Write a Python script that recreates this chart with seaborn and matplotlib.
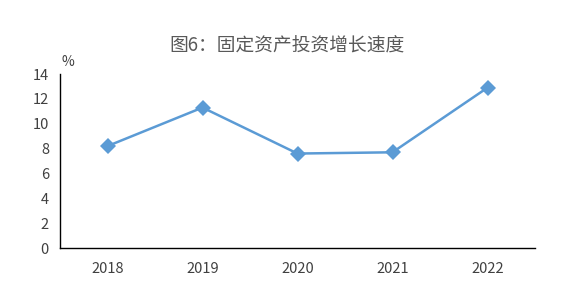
import matplotlib
matplotlib.use("Agg")
import matplotlib.pyplot as plt
import seaborn as sns
import pandas as pd

years = ["2018", "2019", "2020", "2021", "2022"]
growth = [8.2, 11.3, 7.6, 7.7, 12.9]
title = "图6：固定资产投资增长速度"

sns.set_theme(style="white")
plt.rcParams['font.family'] = ['Noto Sans CJK SC', 'DejaVu Sans']

df = pd.DataFrame({"year": years, "growth": growth})

fig = plt.figure(figsize=(5.73, 2.83), dpi=100)
ax = fig.add_axes([60/573, 35/283, 475/573, 174/283])
sns.lineplot(data=df, x="year", y="growth", ax=ax, color="#5B9BD5", linewidth=1.8,
             marker="D", markersize=8, markeredgewidth=0, sort=False)
ax.set_xlim(-0.5, 4.5)
ax.set_ylim(0, 14)
ax.set_yticks(range(0, 15, 2))
ax.set_xlabel("")
ax.set_ylabel("")
for s in ["top", "right"]:
    ax.spines[s].set_visible(False)
for s in ["left", "bottom"]:
    ax.spines[s].set_color("#000000")
    ax.spines[s].set_linewidth(1.0)
ax.tick_params(axis="both", length=0, labelsize=10.5, colors="#404040")
ax.tick_params(axis="x", pad=10)
ax.tick_params(axis="y", pad=8)
fig.text(62/573, 1 - 62/283, "%", fontsize=10, color="#404040", ha="left", va="center")
fig.text(287/573, 1 - 46/283, title, fontsize=13.5, color="#595959", ha="center", va="center")
fig.savefig("out.png", dpi=100)
